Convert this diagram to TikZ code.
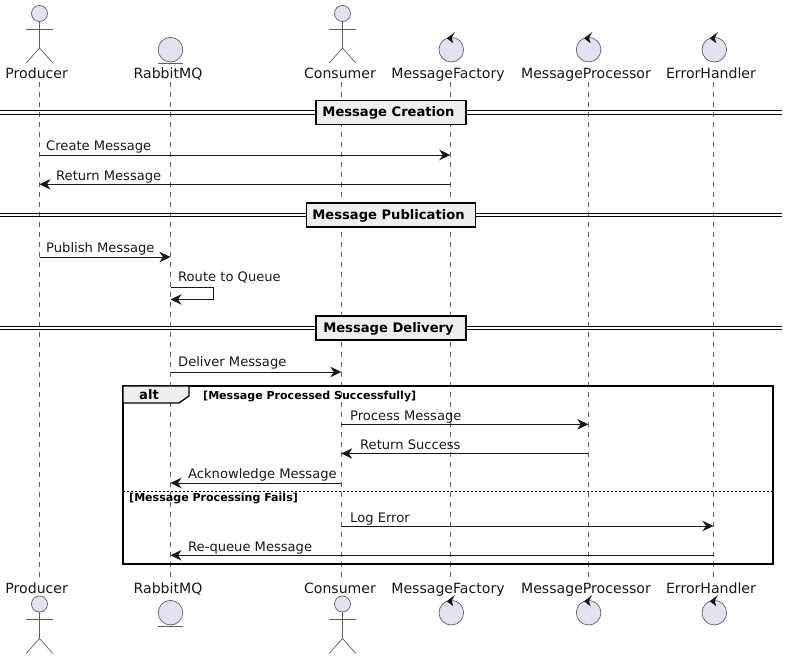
\documentclass[tikz,border=0pt]{standalone}
\usepackage{fontspec}
\setmainfont{DejaVu Sans}
\usepackage{tikz}
\usetikzlibrary{arrows.meta,calc}
\definecolor{partfill}{RGB}{226,226,240}
\definecolor{partline}{RGB}{95,95,95}
\definecolor{inkdark}{RGB}{24,24,24}
\definecolor{tabfill}{RGB}{238,238,238}
\tikzset{
  lifeline/.style={partline,line width=0.6pt,dash pattern=on 5pt off 5pt},
  figline/.style={partline,line width=0.7pt},
  figbody/.style={draw=partline,fill=partfill,line width=0.7pt},
  partname/.style={font=\fontsize{14.1}{16}\selectfont,text=inkdark,inner sep=0pt,anchor=base},
  msg/.style={inkdark,line width=0.9pt,-{Stealth[length=11pt,width=10.5pt,inset=3.5pt]}},
  msglabel/.style={font=\fontsize{13.1}{16}\selectfont,text=inkdark,inner sep=0pt,anchor=base west},
  divbox/.style={draw=black,fill=tabfill,line width=1.6pt,minimum height=24pt,inner sep=0pt,text height=11pt,text depth=2pt,font=\fontsize{13.1}{16}\selectfont\bfseries},
  guardlabel/.style={font=\fontsize{11.05}{13}\selectfont\bfseries,inner sep=0pt,anchor=base west},
}
\begin{document}
\begin{tikzpicture}[x=1pt,y=-1pt]
\useasboundingbox (0,0) rectangle (788,660);
% Lifelines and names, top and bottom
\foreach \nm/\lx/\tx/\lbl in {prod/39.5/36.7/Producer,rabbit/170.5/168/RabbitMQ,cons/341.3/340/Consumer,fact/450.3/448/MessageFactory,proc/588.3/586/MessageProcessor,err/713.5/711/ErrorHandler} {
  \coordinate (\nm Top) at (\lx,82);
  \coordinate (\nm End) at (\lx,577);
  \draw[lifeline] (\nm Top) -- (\nm End);
  \node[partname] (\nm NameA) at (\tx,78.5) {\lbl};
  \node[partname] (\nm NameB) at (\tx,593.5) {\lbl};
}
% Actors
\foreach \x in {39.5,342.5} \foreach \y in {0,590.5} {
  \draw[figbody] (\x,13.5+\y) circle (8);
  \draw[figline] (\x,21.5+\y)--(\x,48+\y);
  \draw[figline] (\x-13.3,29+\y)--(\x+13.3,29+\y);
  \draw[figline] (\x-13.3,63+\y)--(\x,48+\y)--(\x+13.3,63+\y);
}
% Entity
\foreach \y in {0,563} {
  \draw[figbody] (170.5,49.7+\y) circle (12.3);
  \draw[figline] (158,63+\y)--(183,63+\y);
}
% Controls
\foreach \x in {451.3,588.6,714.3} \foreach \y in {0,563} {
  \draw[figbody] (\x,49.7+\y) circle (12.3);
  \fill[inkdark] (\x+3.7,32+\y)--(\x-4.6,38.3+\y)--(\x+2,43.3+\y)--(\x+0.4,37.8+\y)--cycle;
}
% Message Creation
\coordinate (rowA) at (0,155);
\coordinate (rowB) at (0,184.3);
\draw[msg] (prodTop |- rowA) -- (factTop |- rowA);
\node[msglabel] (lblCreate) at (46,150.5) {Create Message};
\draw[msg] (factTop |- rowB) -- (prodTop |- rowB);
\node[msglabel] (lblReturn) at (56,180.5) {Return Message};
% Message Publication
\coordinate (rowC) at (0,257);
\coordinate (rowD) at (0,287);
\coordinate (rowE) at (0,299.5);
\coordinate (selfA) at (213,287);
\coordinate (selfB) at (213,299.5);
\draw[msg] (prodTop |- rowC) -- (rabbitTop |- rowC);
\node[msglabel] (lblPublish) at (46,252.5) {Publish Message};
\draw[msg] (rabbitTop |- rowD) -- (selfA) -- (selfB) -- (rabbitTop |- rowE);
\node[msglabel] (lblRoute) at (178,281.5) {Route to Queue};
% Message Delivery
\coordinate (rowF) at (0,372);
\draw[msg] (rabbitTop |- rowF) -- (consTop |- rowF);
\node[msglabel] (lblDeliver) at (178,366.5) {Deliver Message};
% Alt frame
\draw[black,line width=1.6pt] (123,386) rectangle (773,564);
\draw[black,line width=1.3pt,fill=tabfill] (123,386)--(189,386)--(189,396)--(179,403)--(123,403)--cycle;
\draw[black,line width=0.8pt,dash pattern=on 2pt off 2pt] (123,491.3)--(773,491.3);
\node[font=\fontsize{13.1}{16}\selectfont\bfseries,inner sep=0pt,anchor=base] (altTag) at (149,400) {alt};
\node[guardlabel] (guardA) at (203,399.5) {[Message Processed Successfully]};
\node[guardlabel] (guardB) at (129,502) {[Message Processing Fails]};
\coordinate (rowG) at (0,424.3);
\coordinate (rowH) at (0,453.5);
\coordinate (rowI) at (0,483);
\coordinate (rowJ) at (0,526);
\coordinate (rowK) at (0,555.3);
\draw[msg] (consTop |- rowG) -- (procTop |- rowG);
\node[msglabel] (lblProcess) at (350,420.5) {Process Message};
\draw[msg] (procTop |- rowH) -- (consTop |- rowH);
\node[msglabel] (lblSuccess) at (360,449.5) {Return Success};
\draw[msg] (consTop |- rowI) -- (rabbitTop |- rowI);
\node[msglabel] (lblAck) at (188,478.5) {Acknowledge Message};
\draw[msg] (consTop |- rowJ) -- (errTop |- rowJ);
\node[msglabel] (lblLog) at (350,522) {Log Error};
\draw[msg] (errTop |- rowK) -- (rabbitTop |- rowK);
\node[msglabel] (lblRequeue) at (188,551) {Re-queue Message};
% Dividers
\foreach \nm/\y/\boxw/\lbl in {creation/112.5/150/Message Creation,publication/215/169/Message Publication,delivery/328/150/Message Delivery} {
  \coordinate (\nm L) at (0,\y);
  \coordinate (\nm R) at (782,\y);
  \draw[black,line width=1pt] ($(\nm L)+(0,-1.6)$) -- ($(\nm R)+(0,-1.6)$);
  \draw[black,line width=1pt] ($(\nm L)+(0,1.6)$) -- ($(\nm R)+(0,1.6)$);
  \node[divbox,minimum width=\boxw pt] (\nm Box) at (391,\y) {\lbl\hspace*{5pt}};
}
\end{tikzpicture}
\end{document}
